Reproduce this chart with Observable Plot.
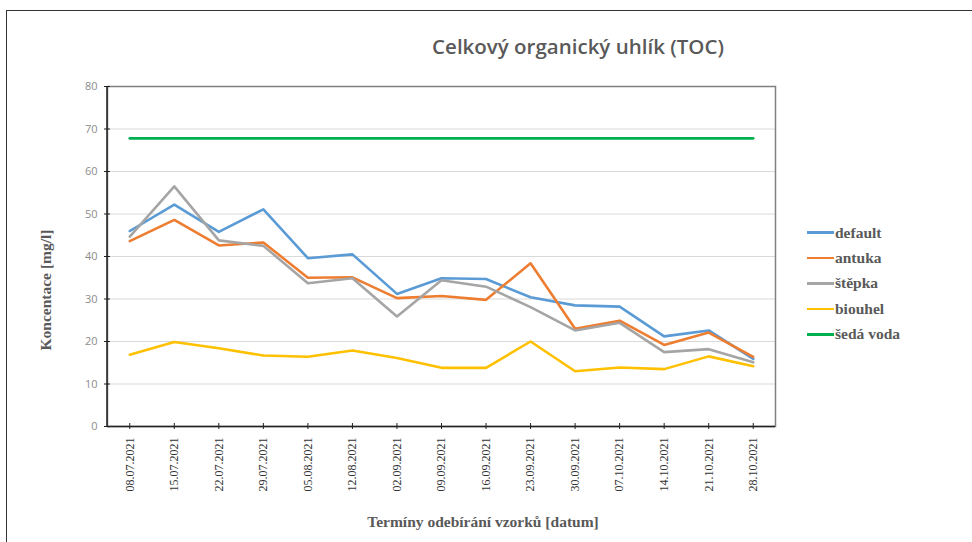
<!DOCTYPE html>
<html>
<head>
<meta charset="utf-8">
<script src="https://cdn.jsdelivr.net/npm/d3@7"></script>
<script src="https://cdn.jsdelivr.net/npm/@observablehq/plot@0.6"></script>
<style>
  body { margin: 0; background: #fff; }
  #wrap { position: relative; width: 972px; height: 542px; overflow: hidden; background: #fff; }
  #border { position: absolute; left: 6px; top: 10px; width: 1000px; height: 600px; border: 1.5px solid #333; box-sizing: border-box; }
  #title { position: absolute; left: 328px; width: 500px; top: 32px; text-align: center; font-family: "Open Sans", sans-serif; font-size: 20.5px; font-weight: 600; color: #595959; }
  #ylab { position: absolute; left: 46px; top: 290px; transform: translate(-50%, -50%) rotate(-90deg); white-space: nowrap; font-family: "Liberation Serif", serif; font-weight: bold; font-size: 15.5px; color: #595959; }
  #xlab { position: absolute; left: 483px; top: 522px; transform: translate(-50%, -50%); white-space: nowrap; font-family: "Liberation Serif", serif; font-weight: bold; font-size: 15.5px; color: #595959; }
  #legend { position: absolute; left: 807px; top: 220px; font-family: "Liberation Serif", serif; font-weight: bold; font-size: 15.5px; color: #595959; }
  .li { display: flex; align-items: center; height: 25.4px; }
  .sw { width: 27px; height: 2.5px; margin-right: 1px; }
  #chart { position: absolute; left: 0; top: 0; }
</style>
</head>
<body>
<div id="wrap">
  <div id="border"></div>
  <div id="chart"></div>
  <div id="title"></div>
  <div id="ylab"></div>
  <div id="xlab"></div>
  <div id="legend"></div>
</div>
<script>
const dates = ["08.07.2021","15.07.2021","22.07.2021","29.07.2021","05.08.2021","12.08.2021","02.09.2021","09.09.2021","16.09.2021","23.09.2021","30.09.2021","07.10.2021","14.10.2021","21.10.2021","28.10.2021"];
const seriesNames = ["default","antuka","štěpka","biouhel","šedá voda"];
const seriesColors = ["#5B9BD5","#ED7D31","#A5A5A5","#FFC000","#00B050"];
const valDefault = [46.0,52.2,45.8,51.1,39.6,40.5,31.2,34.9,34.7,30.4,28.5,28.2,21.2,22.6,15.9];
const valAntuka  = [43.6,48.6,42.6,43.3,35.0,35.1,30.2,30.7,29.8,38.4,23.0,24.9,19.2,22.1,16.4];
const valStepka  = [44.7,56.5,43.8,42.5,33.7,34.9,25.9,34.4,32.9,28.1,22.6,24.4,17.5,18.2,15.1];
const valBiouhel = [16.9,19.9,18.4,16.7,16.4,17.9,16.1,13.8,13.8,20.0,13.0,13.9,13.5,16.5,14.2];
const valSedaVoda = [67.8,67.8,67.8,67.8,67.8,67.8,67.8,67.8,67.8,67.8,67.8,67.8,67.8,67.8,67.8];
const yTicks = [0,10,20,30,40,50,60,70,80];
const titleText = "Celkový organický uhlík (TOC)";
const yLabel = "Koncentace [mg/l]";
const xLabel = "Termíny odebírání vzorků [datum]";

const allVals = [valDefault, valAntuka, valStepka, valBiouhel, valSedaVoda];
const data = [];
seriesNames.forEach((s, i) => dates.forEach((d, j) => data.push({series: s, date: d, value: allVals[i][j]})));

const plot = Plot.plot({
  width: 972,
  height: 542,
  marginLeft: 107,
  marginRight: 197,
  marginTop: 86,
  marginBottom: 116,
  style: { background: "transparent", overflow: "visible" },
  x: { type: "point", domain: dates, padding: 0.5, round: false, label: null },
  y: { domain: [0, 80], label: null },
  color: { domain: seriesNames, range: seriesColors },
  marks: [
    Plot.gridY(yTicks.filter(t => t > 0 && t < 80), { stroke: "#d9d9d9", strokeOpacity: 1, strokeWidth: 1 }),
    Plot.frame({ stroke: "#808080", strokeWidth: 1.5 }),
    Plot.ruleY([0], { stroke: "#222", strokeWidth: 1.5 }),
    Plot.axisY(yTicks, { tickSize: 6, dx: 3, text: null, stroke: "#222" }),
    Plot.axisY(yTicks, { tickSize: 0, tickPadding: 10, fill: "#8c8c8c", fontSize: 11, fontFamily: "Open Sans, sans-serif", label: null }),
    Plot.axisX({ tickSize: 6, dy: -3, text: null, stroke: "#222" }),
    Plot.axisX({ tickSize: 0, tickPadding: 11, tickRotate: -90, fill: "#333", fontSize: 12, fontFamily: "Liberation Serif, serif", label: null }),
    Plot.lineY(data, { x: "date", y: "value", z: "series", stroke: "series", strokeWidth: 2.6 })
  ]
});
document.getElementById("chart").appendChild(plot);

// left axis line in black over the frame
const ys = plot.scale("y").range;
d3.select(plot).append("line")
  .attr("x1", 107).attr("x2", 107)
  .attr("y1", ys[0]).attr("y2", ys[1])
  .attr("stroke", "#222").attr("stroke-width", 1.5);

document.getElementById("title").textContent = titleText;
document.getElementById("ylab").textContent = yLabel;
document.getElementById("xlab").textContent = xLabel;
const leg = d3.select("#legend");
seriesNames.forEach((s, i) => {
  const row = leg.append("div").attr("class", "li");
  row.append("div").attr("class", "sw").style("background", seriesColors[i]);
  row.append("span").text(s);
});
</script>
</body>
</html>
